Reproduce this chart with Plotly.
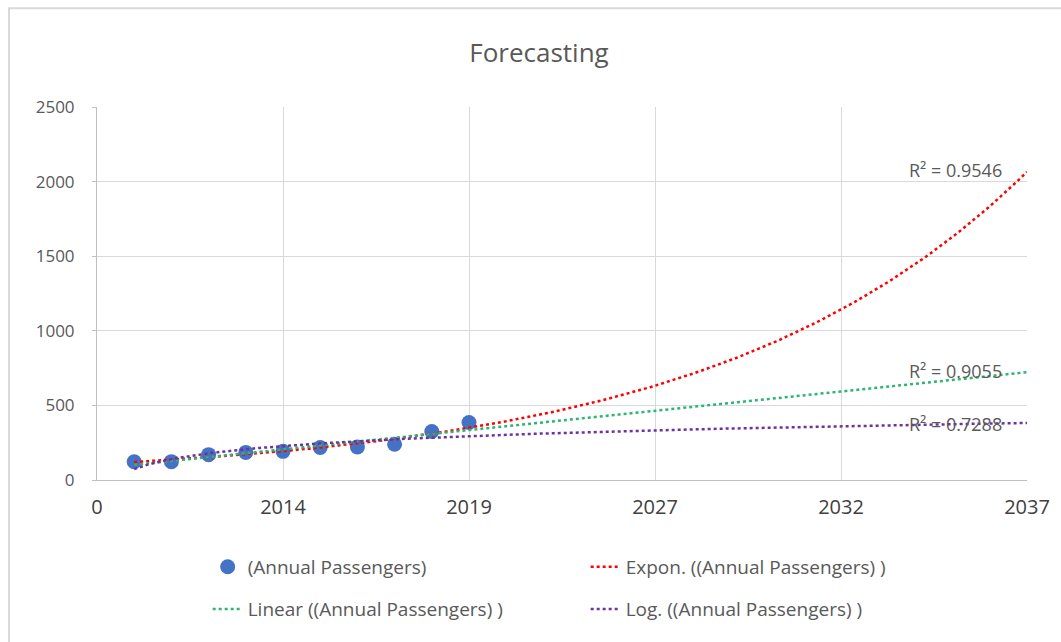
import numpy as np
import plotly.graph_objects as go

# Data
x_idx = [1, 2, 3, 4, 5, 6, 7, 8, 9, 10]
passengers = [122, 123, 170, 185, 192, 218, 222, 240, 325, 385]
tick_vals = [0, 5, 10, 15, 20, 25]
tick_labels = ["0", "2014", "2019", "2027", "2032", "2037"]
r2_labels = ["R² = 0.9546", "R² = 0.9055", "R² = 0.7288"]
r2_y = [2078, 730, 375]

x = np.array(x_idx, dtype=float)
y = np.array(passengers, dtype=float)
xt = np.linspace(1, 25, 200)

# trend fits
b_lin, a_lin = np.polyfit(x, y, 1)
lin = a_lin + b_lin * xt
b_exp, a_exp = np.polyfit(x, np.log(y), 1)
expo = np.exp(a_exp + b_exp * xt)
b_log, a_log = np.polyfit(np.log(x), y, 1)
logt = a_log + b_log * np.log(xt)

fig = go.Figure()
fig.add_trace(go.Scatter(x=x_idx, y=passengers, mode="markers", name="(Annual Passengers)",
                         marker=dict(color="#4472C4", size=15), legend="legend"))
fig.add_trace(go.Scatter(x=xt, y=expo, mode="lines", name="Expon. ((Annual Passengers) )",
                         line=dict(color="#FF0000", width=2.5, dash="dot"), legend="legend"))
fig.add_trace(go.Scatter(x=xt, y=lin, mode="lines", name="Linear ((Annual Passengers) )",
                         line=dict(color="#2BB673", width=2.5, dash="dot"), legend="legend2"))
fig.add_trace(go.Scatter(x=xt, y=logt, mode="lines", name="Log. ((Annual Passengers) )",
                         line=dict(color="#7030A0", width=2.5, dash="dot"), legend="legend2"))

font = "Open Sans, Liberation Sans, sans-serif"
leg = dict(orientation="h", xanchor="left", x=0.119, yanchor="top",
           entrywidth=333, entrywidthmode="pixels",
           font=dict(size=19, color="#595959"), bgcolor="rgba(0,0,0,0)")
fig.update_layout(
    width=1061, height=642,
    margin=dict(l=97, r=34, t=107, b=162),
    paper_bgcolor="white", plot_bgcolor="white",
    font=dict(family=font, color="#595959"),
    title=dict(text="Forecasting", x=0.508, xanchor="center", y=0.917, yanchor="middle",
               font=dict(size=26, color="#595959")),
    xaxis=dict(range=[0, 25], tickvals=tick_vals, ticktext=tick_labels,
               showgrid=True, gridcolor="#D9D9D9", gridwidth=1,
               showline=True, linecolor="#BFBFBF", zeroline=False,
               tickfont=dict(size=20, color="#404040"), ticks="", ticklabelstandoff=9),
    yaxis=dict(range=[0, 2500], dtick=500, showgrid=True, gridcolor="#D9D9D9",
               showline=True, linecolor="#BFBFBF", zeroline=False,
               ticks="outside", ticklen=4, tickcolor="#BFBFBF",
               tickfont=dict(size=17, color="#595959"), ticklabelstandoff=14),
    legend=dict(leg, y=-0.182),
    legend2=dict(leg, y=-0.295),
    showlegend=True,
)

# R² labels
for txt, yy in zip(r2_labels, r2_y):
    fig.add_annotation(x=24.38, y=yy, xref="x", yref="y", text=txt, showarrow=False,
                       xanchor="right", yanchor="middle", font=dict(size=18, color="#595959"))

# chart border
fig.add_shape(type="rect", xref="paper", yref="paper", x0=-0.0946, x1=1.1, y0=-0.6, y1=1.265,
              line=dict(color="#D9D9D9", width=2), fillcolor="rgba(0,0,0,0)")

fig.write_html("out.html")
